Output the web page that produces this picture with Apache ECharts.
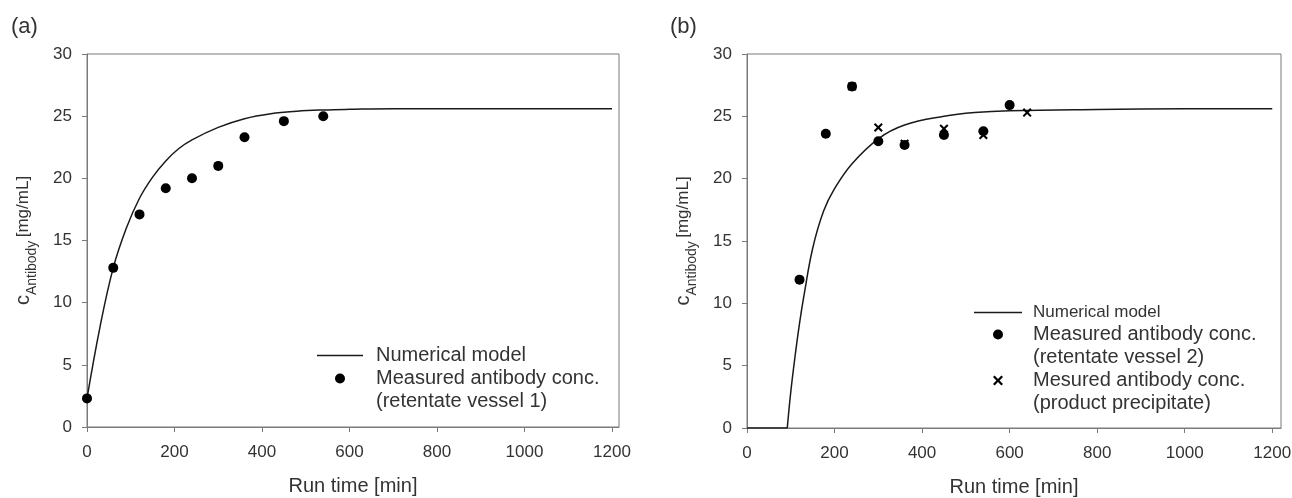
<!DOCTYPE html>
<html>
<head>
	<meta charset="utf-8"/>
	<title>Antibody concentration</title>
	<style>
		* {
			margin: 0;
			padding: 0;
		}
		body {
			background: #fff;
		}
	</style>
</head>
<body>

	<div style="width: 1292px;height: 498px;" id="myChart"></div>

	<script src="https://cdn.jsdelivr.net/npm/echarts@6/dist/echarts.min.js"></script>
	<script>
		// tick labels on the run time axis
		var xTicks = [0, 200, 400, 600, 800, 1000, 1200];

		// (a) numerical model
		var modelA_t = [0, 30, 60, 90, 120, 150, 180, 210, 240, 300, 360, 420, 480, 540, 600, 700, 800, 1000, 1200];
		var modelA_c = [2.3, 8.1, 12.8, 16.0, 18.4, 20.1, 21.4, 22.4, 23.1, 24.1, 24.8, 25.2, 25.4, 25.5, 25.55, 25.6, 25.6, 25.6, 25.6];
		// (a) measured, retentate vessel 1
		var measA_t = [0, 60, 120, 180, 240, 300, 360, 450, 540];
		var measA_c = [2.3, 12.8, 17.1, 19.2, 20.0, 21.0, 23.3, 24.6, 25.0];

		// (b) numerical model: zero until ~92 min, then the rise
		var flatB_t = [0, 92];
		var flatB_c = [0, 0];
		var modelB_t = [92, 100, 110, 120, 130, 150, 175, 200, 240, 300, 360, 450, 520, 600, 800, 1000, 1200];
		var modelB_c = [0, 2.9, 5.8, 8.4, 10.6, 14.4, 17.4, 19.2, 21.2, 23.2, 24.3, 25.0, 25.3, 25.45, 25.55, 25.6, 25.6];
		// (b) measured, retentate vessel 2
		var retB_t = [120, 180, 240, 300, 360, 450, 540, 600];
		var retB_c = [11.9, 23.6, 27.4, 23.0, 22.7, 23.5, 23.8, 25.9];
		// (b) measured, product precipitate
		var precB_t = [240, 300, 360, 450, 540, 640];
		var precB_c = [27.4, 24.1, 22.8, 24.0, 23.5, 25.3];

		// a blank first line keeps the icon level with the first text line
		var legendText = {
			modelA: 'Numerical model',
			measA: ' \nMeasured antibody conc.\n(retentate vessel 1)',
			modelB: 'Numerical model',
			retB: ' \nMeasured antibody conc.\n(retentate vessel 2)',
			precB: ' \nMesured antibody conc.\n(product precipitate)'
		};

		function pairs(t, c) {
			return t.map(function (v, i) { return [v, c[i]]; });
		}

		var font = '"Liberation Sans", Arial, sans-serif';
		var axisGray = '#7a7a7a';
		var textGray = '#333';
		var lineColor = '#1a1a1a';
		var crossPath = 'path://M0,1.6L1.6,0L5,3.4L8.4,0L10,1.6L6.6,5L10,8.4L8.4,10L5,6.6L1.6,10L0,8.4L3.4,5Z';
		var lineIcon = 'path://M0,0H46V1.5H0Z';

		function xAxisFor(idx, max) {
			return {
				type: 'value',
				gridIndex: idx,
				min: 0,
				max: max,
				interval: 200,
				name: 'Run time [min]',
				nameLocation: 'middle',
				nameGap: 49,
				nameTextStyle: { fontFamily: font, fontSize: 20, color: textGray },
				axisLine: { show: true, lineStyle: { color: axisGray, width: 1 } },
				axisTick: { show: true, length: 5, customValues: xTicks, lineStyle: { color: axisGray } },
				axisLabel: {
					customValues: xTicks, margin: 17, fontFamily: font, fontSize: 17, color: textGray,
					formatter: function (v) { return String(v); }
				},
				splitLine: { show: false }
			};
		}

		function yAxisFor(idx) {
			return {
				type: 'value',
				gridIndex: idx,
				min: 0,
				max: 30,
				interval: 5,
				name: '{c|c}{s|Antibody} {u|[mg/mL]}',
				nameLocation: 'middle',
				nameGap: 48,
				nameTextStyle: {
					fontFamily: font,
					color: textGray,
					rich: {
						c: { fontFamily: font, fontSize: 20, lineHeight: 32, color: textGray },
						s: { fontFamily: font, fontSize: 14, lineHeight: 14, verticalAlign: 'bottom', color: textGray },
						u: { fontFamily: font, fontSize: 17, lineHeight: 32, color: textGray }
					}
				},
				axisLine: { show: true, lineStyle: { color: axisGray, width: 1 } },
				axisTick: { show: true, length: 5, lineStyle: { color: axisGray } },
				axisLabel: { margin: 15, fontFamily: font, fontSize: 17, color: textGray },
				splitLine: { show: false }
			};
		}

		var myChart = echarts.init(document.getElementById('myChart'));

		var option = {
			animation: false,
			backgroundColor: '#fff',
			title: [
				{ text: '(a)', left: 11, top: 16, padding: 0, textStyle: { fontFamily: font, fontSize: 22, fontWeight: 'normal', color: textGray } },
				{ text: '(b)', left: 670, top: 16, padding: 0, textStyle: { fontFamily: font, fontSize: 22, fontWeight: 'normal', color: textGray } }
			],
			grid: [
				{ left: 87, top: 54, width: 532, height: 373, outerBoundsMode: 'none', containLabel: false, show: true, borderColor: axisGray, borderWidth: 1 },
				{ left: 747, top: 54, width: 534, height: 374, outerBoundsMode: 'none', containLabel: false, show: true, borderColor: axisGray, borderWidth: 1 }
			],
			xAxis: [xAxisFor(0, 1216), xAxisFor(1, 1220)],
			yAxis: [yAxisFor(0), yAxisFor(1)],
			legend: [
				{
					left: 317, top: 344, orient: 'vertical', padding: 0, itemGap: -23,
					itemWidth: 46, itemHeight: 10, selectedMode: false,
					formatter: function (n) { return legendText[n]; },
					textStyle: { fontFamily: font, fontSize: 20, color: textGray, padding: [0, 0, 0, 8] },
					data: [
						{ name: 'modelA', icon: lineIcon, textStyle: { lineHeight: 23 } },
						{ name: 'measA', textStyle: { lineHeight: 23 } }
					]
				},
				{
					left: 974, top: 300, orient: 'vertical', padding: 0, itemGap: -23,
					itemWidth: 48, itemHeight: 10, selectedMode: false,
					formatter: function (n) { return legendText[n]; },
					textStyle: { fontFamily: font, fontSize: 20, color: textGray, padding: [0, 0, 0, 6] },
					data: [
						{ name: 'modelB', icon: lineIcon, textStyle: { fontSize: 17, lineHeight: 21 } },
						{ name: 'retB', textStyle: { lineHeight: 23 } },
						{ name: 'precB', textStyle: { lineHeight: 23 } }
					]
				}
			],
			series: [
				{
					name: 'modelA', type: 'line', xAxisIndex: 0, yAxisIndex: 0,
					data: pairs(modelA_t, modelA_c),
					smooth: 0.4, symbol: 'none',
					lineStyle: { color: lineColor, width: 1.5 },
					itemStyle: { color: lineColor },
					z: 2
				},
				{
					name: 'measA', type: 'scatter', xAxisIndex: 0, yAxisIndex: 0,
					data: pairs(measA_t, measA_c),
					symbol: 'circle', symbolSize: 10,
					itemStyle: { color: '#000', opacity: 1 },
					z: 3
				},
				{
					name: 'flatB', type: 'line', xAxisIndex: 1, yAxisIndex: 1,
					data: pairs(flatB_t, flatB_c),
					symbol: 'none',
					lineStyle: { color: lineColor, width: 1.5 },
					z: 2
				},
				{
					name: 'modelB', type: 'line', xAxisIndex: 1, yAxisIndex: 1,
					data: pairs(modelB_t, modelB_c),
					smooth: 0.4, symbol: 'none',
					lineStyle: { color: lineColor, width: 1.5 },
					itemStyle: { color: lineColor },
					z: 2
				},
				{
					name: 'retB', type: 'scatter', xAxisIndex: 1, yAxisIndex: 1,
					data: pairs(retB_t, retB_c),
					symbol: 'circle', symbolSize: 10,
					itemStyle: { color: '#000', opacity: 1 },
					z: 3
				},
				{
					name: 'precB', type: 'scatter', xAxisIndex: 1, yAxisIndex: 1,
					data: pairs(precB_t, precB_c),
					symbol: crossPath, symbolSize: 9,
					itemStyle: { color: '#000', opacity: 1 },
					z: 4
				}
			]
		};

		myChart.setOption(option);
	</script>
</body>
</html>
